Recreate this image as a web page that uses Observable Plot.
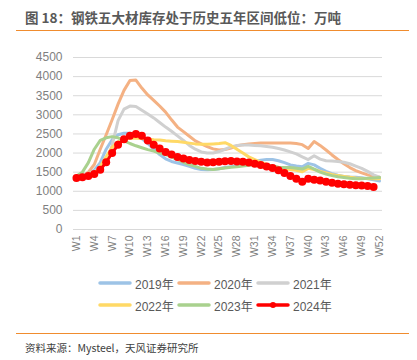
<!DOCTYPE html>
<html><head><meta charset="utf-8">
<script src="https://cdn.jsdelivr.net/npm/d3@7"></script>
<script src="https://cdn.jsdelivr.net/npm/@observablehq/plot@0.6"></script>
<style>
body{margin:0;width:417px;height:360px;position:relative;background:#fff;font-family:"Liberation Sans","Noto Sans CJK SC",sans-serif;}
#title{position:absolute;left:25px;top:8px;font-size:13.5px;line-height:18px;color:#595959;font-weight:bold;font-family:"Noto Sans CJK SC",sans-serif;white-space:nowrap;}
.rule{position:absolute;left:16px;width:393px;height:0;border-top:1.6px solid #F08C2E;}
#chart{position:absolute;left:0;top:32px;}
#legend{position:absolute;left:0;top:0;}
.item{position:absolute;height:16px;display:flex;align-items:center;font-size:12px;color:#595959;white-space:nowrap;font-family:"Liberation Sans","Noto Sans CJK SC",sans-serif;}
.item svg{margin-right:3px;}
#caption{position:absolute;left:25px;top:341px;font-size:10.5px;line-height:14px;color:#404040;font-family:"Noto Sans CJK SC",sans-serif;white-space:nowrap;}
</style></head>
<body>
<div id="title">图 18：钢铁五大材库存处于历史五年区间低位：万吨</div>
<div class="rule" style="top:30px"></div>
<div id="chart"></div>
<div id="legend"></div>
<div class="rule" style="top:333px"></div>
<div id="caption">资料来源：Mysteel，天风证券研究所</div>
<script>
const years = ["2019年","2020年","2021年","2022年","2023年","2024年"];
const colors = ["#9DC3E6","#F4B183","#D0D0D0","#FFD966","#A9D18E","#FF0000"];
const weekTicks = [1,4,7,10,13,16,19,22,25,28,31,34,37,40,43,46,49,52];
const yTicks = [0,500,1000,1500,2000,2500,3000,3500,4000,4500];

const v2019 = [1380,1400,1450,1550,1750,2100,2350,2480,2520,2520,2480,2380,2250,2100,1960,1850,1780,1740,1700,1650,1600,1570,1565,1570,1590,1620,1645,1670,1700,1740,1780,1815,1830,1830,1800,1750,1690,1660,1640,1730,1690,1600,1520,1460,1420,1390,1375,1365,1355,1330,1300,1270];
const v2020 = [1350,1400,1500,1700,2100,2480,2870,3280,3640,3900,3910,3700,3520,3380,3230,3070,2870,2680,2560,2440,2320,2240,2170,2110,2080,2090,2130,2190,2220,2240,2250,2260,2260,2260,2260,2260,2260,2250,2220,2120,2300,2200,2080,1950,1830,1720,1620,1540,1480,1430,1390,1370];
const v2021 = [1400,1420,1450,1520,1620,1780,2200,2850,3150,3230,3220,3120,3020,2920,2800,2680,2570,2450,2330,2200,2100,2030,2000,2000,2040,2100,2160,2200,2210,2210,2200,2190,2170,2150,2120,2080,2030,1980,1900,1830,1930,1840,1800,1790,1780,1760,1720,1660,1600,1520,1430,1370];
const v2022 = [1350,1370,1400,1450,1650,1900,2150,2300,2360,2390,2390,2380,2370,2350,2340,2320,2310,2300,2280,2260,2240,2230,2230,2240,2250,2270,2200,2100,2000,1900,1830,1760,1700,1650,1620,1590,1570,1550,1510,1600,1570,1520,1480,1440,1410,1390,1370,1350,1340,1335,1330,1330];
const v2023 = [1400,1500,1750,2100,2330,2400,2430,2400,2320,2250,2190,2140,2090,2050,2000,1960,1900,1830,1760,1700,1650,1600,1580,1570,1590,1610,1630,1640,1660,1680,1700,1700,1690,1660,1630,1620,1620,1600,1580,1650,1580,1500,1450,1410,1380,1360,1340,1330,1330,1340,1350,1360];
const v2024 = [1350,1370,1400,1450,1560,1760,2000,2220,2360,2450,2500,2450,2330,2220,2120,2030,1960,1900,1860,1820,1790,1770,1755,1760,1770,1785,1790,1780,1770,1750,1720,1690,1650,1610,1550,1480,1400,1330,1250,1330,1300,1280,1250,1220,1200,1185,1170,1160,1150,1140,1115];

const series = [v2019,v2020,v2021,v2022,v2023,v2024];
const rows = years.flatMap((y,i)=>series[i].map((v,j)=>({year:y, week:j+1, value:v})));
const red = rows.filter(d=>d.year==="2024年");

const chart = Plot.plot({
  width:417, height:240,
  marginLeft:73, marginRight:35, marginTop:25, marginBottom:43,
  style:{fontFamily:"'Liberation Sans',sans-serif", background:"transparent"},
  x:{type:"linear", domain:[0.5,52.5]},
  y:{domain:[0,4500]},
  color:{domain:years, range:colors},
  marks:[
    Plot.gridY(yTicks,{stroke:"#D9D9D9", strokeOpacity:1, strokeWidth:1}),
    Plot.axisY(yTicks,{tickSize:0, tickPadding:11, fontSize:12, fill:"#7F7F7F", tickFormat:d=>String(d), label:null}),
    Plot.axisX(weekTicks,{tickSize:0, tickPadding:6, tickRotate:-90, fontSize:10.5, fill:"#7F7F7F", tickFormat:d=>"W"+d, label:null}),
    Plot.line(rows,{x:"week", y:"value", z:"year", stroke:"year", strokeWidth:3, curve:"linear"}),
    Plot.dot(red,{x:"week", y:"value", r:4, fill:"#FF0000", stroke:"none"})
  ]
});
document.getElementById("chart").appendChild(chart);

const legend = document.getElementById("legend");
const lx = [98,177,256], ly = [275,297];
years.forEach((y,i)=>{
  const it = document.createElement("div");
  it.className = "item";
  it.style.left = lx[i%3]+"px";
  it.style.top = ly[Math.floor(i/3)]+"px";
  const dot = i===5 ? `<circle cx="17" cy="8" r="3" fill="${colors[i]}"/>` : "";
  it.innerHTML = `<svg width="34" height="16"><line x1="2" y1="8" x2="32" y2="8" stroke="${colors[i]}" stroke-width="3.5" stroke-linecap="round"/>${dot}</svg><span>${y}</span>`;
  legend.appendChild(it);
});
</script>
</body></html>
